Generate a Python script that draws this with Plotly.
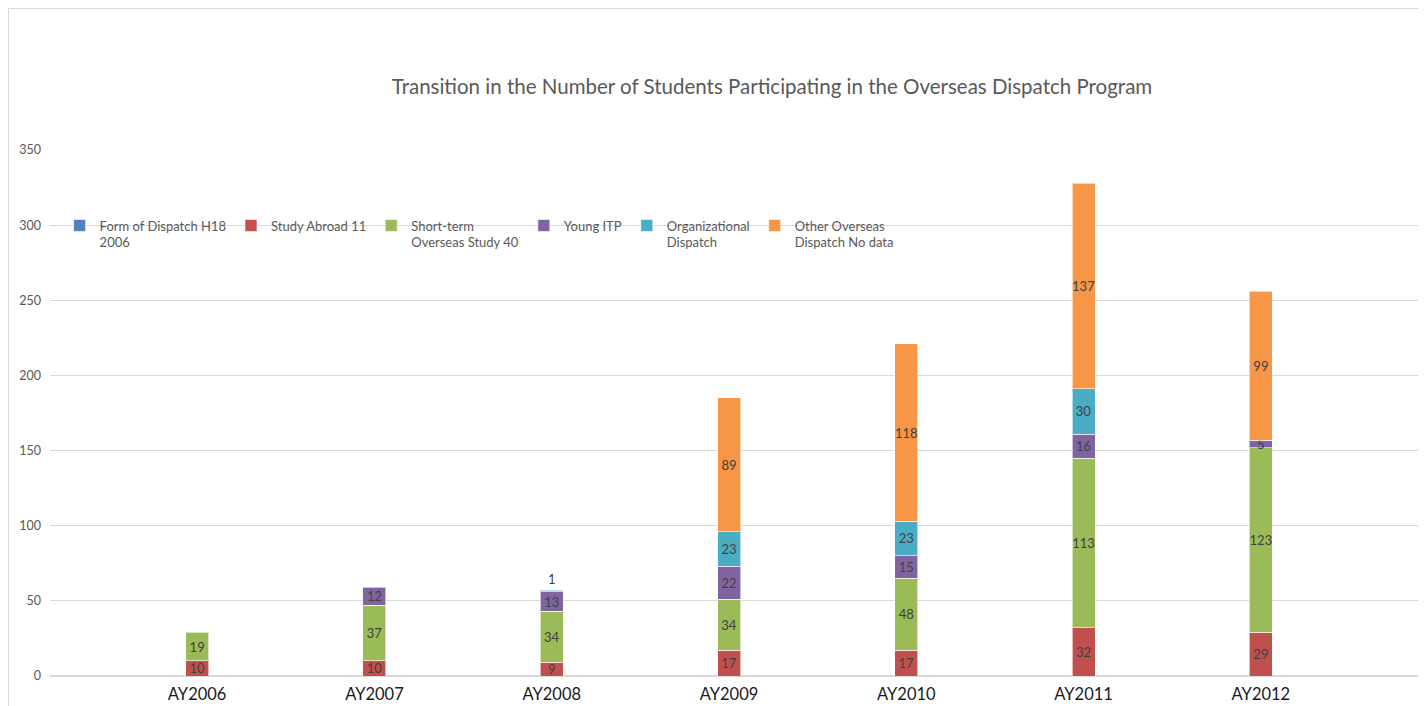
import plotly.graph_objects as go

years = ["AY2006", "AY2007", "AY2008", "AY2009", "AY2010", "AY2011", "AY2012"]
series_names = [
    "Form of Dispatch H18<br>2006",
    "Study Abroad 11",
    "Short-term<br>Overseas Study 40",
    "Young ITP",
    "Organizational<br>Dispatch",
    "Other Overseas<br>Dispatch No data",
]
form_of_dispatch = [None, None, None, None, None, None, None]
study_abroad = [10, 10, 9, 17, 17, 32, 29]
short_term = [19, 37, 34, 34, 48, 113, 123]
young_itp = [None, 12, 13, 22, 15, 16, 5]
organizational = [None, None, 1, 23, 23, 30, None]
other_overseas = [None, None, None, 89, 118, 137, 99]
y_ticks = [0, 50, 100, 150, 200, 250, 300, 350]

colors = ["#4F81BD", "#C0504D", "#9BBB59", "#8064A2", "#4BACC6", "#F79646"]
all_series = [form_of_dispatch, study_abroad, short_term, young_itp, organizational, other_overseas]

FONT = "Lato, Open Sans, sans-serif"
W, H = 1418, 698  # page body has an 8px margin

fig = go.Figure()
for name, vals, col in zip(series_names, all_series, colors):
    # a segment too thin to hold its label gets it just above the bar
    positions = ["outside" if (v is not None and v < 3) else "inside" for v in vals]
    fig.add_trace(go.Bar(
        x=years, y=vals, name=name,
        marker=dict(color=col, line=dict(color="rgba(255,255,255,0.6)", width=1)),
        width=0.13,
        text=[("" if v is None else str(v)) for v in vals],
        textposition=positions, insidetextanchor="middle",
        textangle=0,
        constraintext="none",
        cliponaxis=False,
        textfont=dict(family=FONT, size=13, color="#404040"),
        hoverinfo="x+y+name",
    ))

fig.update_layout(
    width=W, height=H,
    barmode="stack",
    plot_bgcolor="white", paper_bgcolor="white",
    margin=dict(l=42, r=2, t=142, b=30),
    font=dict(family=FONT, color="#595959"),
    title=dict(
        text="Transition in the Number of Students Participating in the Overseas Dispatch Program",
        x=764 / W, xref="container", xanchor="center",
        y=1 - 79 / H, yref="container", yanchor="middle",
        font=dict(size=20.5, color="#595959", family=FONT),
    ),
    legend=dict(
        orientation="h", x=0.007, xanchor="left", y=0.885, yanchor="top",
        bgcolor="rgba(0,0,0,0)",
        font=dict(size=13, color="#595959"),
        itemwidth=30, tracegroupgap=0, traceorder="normal",
        valign="top",
    ),
    xaxis=dict(
        type="category", range=[-0.83, 6.92],
        showgrid=False, showline=False, zeroline=False,
        ticks="", tickfont=dict(size=16.5, color="#1a1a1a"),
        ticklabelstandoff=6,
    ),
    yaxis=dict(
        range=[0, 350], tickvals=y_ticks,
        showgrid=True, gridcolor="#d9d9d9", gridwidth=1,
        zeroline=True, zerolinecolor="#d9d9d9",
        showline=False, ticks="",
        tickfont=dict(size=12.5, color="#595959"),
        ticklabelstandoff=8,
    ),
    shapes=[
        dict(type="line", xref="paper", yref="paper", x0=-0.0302, x1=1.01, y0=1.269, y1=1.269,
             line=dict(color="#d9d9d9", width=1)),
        dict(type="line", xref="paper", yref="paper", x0=-0.0302, x1=-0.0302, y0=-0.1, y1=1.269,
             line=dict(color="#d9d9d9", width=1)),
    ],
)

fig.write_html("out.html")
